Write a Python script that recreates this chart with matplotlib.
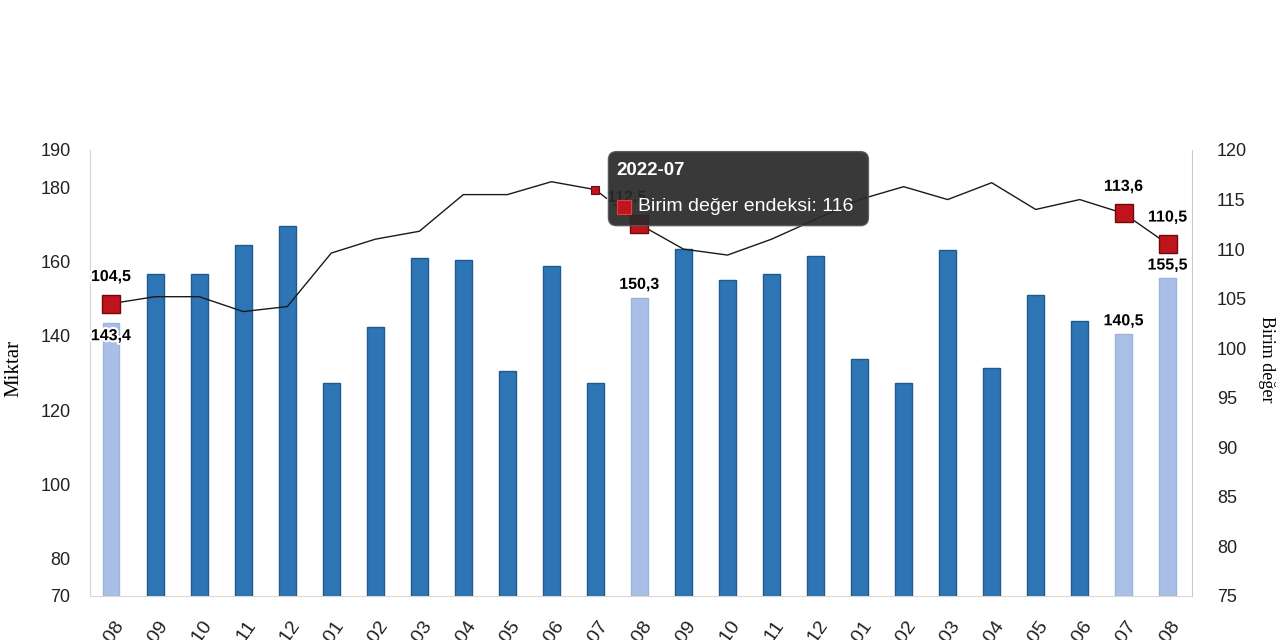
import matplotlib
matplotlib.use('Agg')
import matplotlib.pyplot as plt
import matplotlib.patheffects as pe
import matplotlib.transforms as mtransforms
from matplotlib.patches import FancyBboxPatch, Rectangle

months = ['2021-08', '2021-09', '2021-10', '2021-11', '2021-12',
          '2022-01', '2022-02', '2022-03', '2022-04', '2022-05', '2022-06',
          '2022-07', '2022-08', '2022-09', '2022-10', '2022-11', '2022-12',
          '2023-01', '2023-02', '2023-03', '2023-04', '2023-05', '2023-06',
          '2023-07', '2023-08']

# Miktar (left axis, bars)
miktar = [143.4, 156.6, 156.6, 164.5, 169.5,
          127.3, 142.4, 160.9, 160.4, 130.5, 158.8,
          127.3, 150.3, 163.3, 155.0, 156.6, 161.5,
          133.8, 127.3, 163.2, 131.4, 151.0, 144.1,
          140.5, 155.5]

# Birim deger endeksi (right axis, line)
birim = [104.5, 105.2, 105.2, 103.7, 104.2,
         109.6, 111.0, 111.8, 115.5, 115.5, 116.8,
         116.0, 112.5, 110.0, 109.4, 111.0, 113.0,
         115.0, 116.3, 115.0, 116.7, 114.0, 115.0,
         113.6, 110.5]

highlight = ['2021-08', '2022-08', '2023-07', '2023-08']
hover_month = '2022-07'

dark_blue = '#2e75b6'
light_blue = '#a9bfe6'
red = '#c0141c'

def fmt(v):
    return f'{v:.1f}'.replace('.', ',')

fig = plt.figure(figsize=(12.8, 6.4), dpi=100)
ax = fig.add_axes([90 / 1280, 44 / 640, 1102 / 1280, 446 / 640])
ax2 = ax.twinx()

x = list(range(len(months)))
hl = [m in highlight for m in months]

colors = [light_blue if h else dark_blue for h in hl]
edges = ['#9db3da' if h else '#1f5a8f' for h in hl]
ax.bar(x, [v - 70 for v in miktar], 0.38, bottom=70, color=colors,
       edgecolor=edges, linewidth=1, zorder=2)

ax.set_ylim(70, 190)
ax.set_yticks([70, 80, 100, 120, 140, 160, 180, 190])
ax.set_xlim(-0.48, len(months) - 0.45)
ax.set_xticks(x)
ax.set_xticklabels(months, rotation=55, ha='right', va='center',
                   rotation_mode='anchor', fontsize=14, color='#222222',
                   family='Liberation Sans')
ax.tick_params(axis='x', length=0, pad=19)
ax.tick_params(axis='y', length=0, pad=14, labelsize=13, labelcolor='#222222')
shift = mtransforms.ScaledTranslation(9 / 100, 0, fig.dpi_scale_trans)
for lbl in ax.get_xticklabels():
    lbl.set_transform(lbl.get_transform() + shift)
for lbl in ax.get_yticklabels():
    lbl.set_fontfamily('Liberation Sans')

ax2.plot(x, birim, color='#1a1a1a', linewidth=1.0, zorder=3)
ax2.set_ylim(75, 120)
ax2.set_yticks(range(75, 121, 5))
ax2.tick_params(axis='y', length=0, pad=18, labelsize=13, labelcolor='#222222')
for lbl in ax2.get_yticklabels():
    lbl.set_fontfamily('Liberation Sans')

ax.spines['top'].set_visible(False)
ax2.spines['top'].set_visible(False)
ax.spines['right'].set_visible(False)
ax2.spines['left'].set_visible(False)
ax2.spines['bottom'].set_visible(False)
ax.spines['left'].set_color('#d4d4d4')
ax.spines['bottom'].set_color('#d9d9d9')
ax2.spines['right'].set_color('#cccccc')

ax.set_ylabel('Miktar', family='Liberation Serif', fontsize=15, va='center')
ax.yaxis.set_label_coords(-0.069, 0.51)
ax2.set_ylabel('Birim değer', family='Liberation Serif', fontsize=13,
               rotation=-90, va='center')
ax2.yaxis.set_label_coords(1.068, 0.531)

halo = [pe.withStroke(linewidth=3, foreground='white')]

# highlighted markers and labels
for i, m in enumerate(months):
    if not hl[i]:
        continue
    ax2.plot(i, birim[i], marker='s', markersize=12.5, color=red,
             markeredgecolor='#6e0a0e', markeredgewidth=1, zorder=5)
    dx = -9 if m == '2022-08' else 0
    ax2.annotate(fmt(birim[i]), (i, birim[i]), xytext=(dx, 19.5),
                 textcoords='offset points', ha='center', va='center',
                 fontsize=11.5, fontweight='bold', family='Liberation Sans',
                 path_effects=halo, zorder=6)
    dy = -9 if m == '2021-08' else 9.5
    ax.annotate(fmt(miktar[i]), (i, miktar[i]), xytext=(0, dy),
                textcoords='offset points', ha='center', va='center',
                fontsize=11.5, fontweight='bold', family='Liberation Sans',
                path_effects=halo, zorder=6)

# hover point + tooltip
hi = months.index(hover_month)
ax2.plot(hi, birim[hi], marker='s', markersize=6, color=red,
         markeredgecolor='#6e0a0e', markeredgewidth=0.8, zorder=5)

px, py = ax2.transData.transform((hi, birim[hi]))
tip = mtransforms.Affine2D().translate(px, py)
box = FancyBboxPatch((13, -36), 260, 74, boxstyle='round,pad=0,rounding_size=8',
                     transform=tip, facecolor='#2a2a2a', edgecolor='#555555',
                     linewidth=1, alpha=0.93, zorder=10)
ax2.add_artist(box)
box.set_clip_on(False)
t1 = ax2.text(21, 19, hover_month, transform=tip, color='white', fontsize=13.5,
              fontweight='bold', family='Liberation Sans', ha='left',
              va='center', zorder=11)
sq = Rectangle((22, -24), 14, 14, transform=tip, facecolor=red,
               edgecolor='#e04040', linewidth=0.8, zorder=11)
ax2.add_artist(sq)
sq.set_clip_on(False)
t2 = ax2.text(43, -17, f'Birim değer endeksi: {birim[hi]:g}', transform=tip,
              color='white', fontsize=14, family='Liberation Sans', ha='left',
              va='center', zorder=11)
t1.set_clip_on(False)
t2.set_clip_on(False)

fig.savefig('out.png', dpi=100, facecolor='white')
